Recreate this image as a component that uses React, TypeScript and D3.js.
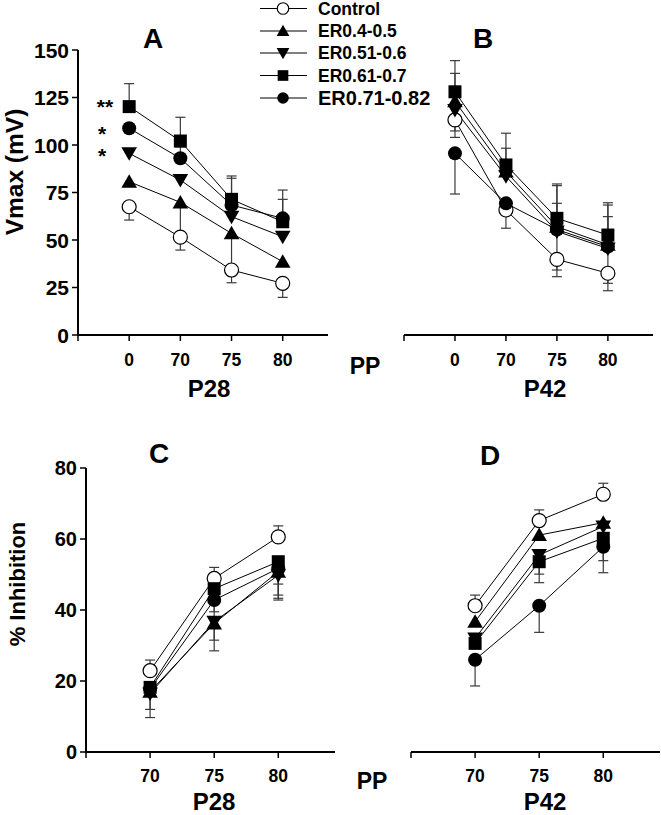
import React from "react";
import * as d3 from "d3";

// ---------- data ----------
const seriesNames = ["Control", "ER0.4-0.5", "ER0.51-0.6", "ER0.61-0.7", "ER0.71-0.82"];
const seriesShapes = ["openCircle", "triUp", "triDown", "square", "circle"];

const ppTop = ["0", "70", "75", "80"];
const ppBottom = ["70", "75", "80"];

const vmaxTicks = [0, 25, 50, 75, 100, 125, 150];
const inhibTicks = [0, 20, 40, 60, 80];

// Panel A: Vmax, P28
const vmaxP28 = [
  [67.5, 51.5, 34.2, 27.2],
  [80.7, 69.8, 53.5, 38.6],
  [95.6, 81.6, 62.3, 51.7],
  [120.2, 102.1, 71.4, 59.6],
  [108.8, 93.0, 68.4, 61.4],
];
const vmaxP28Up = [
  [0, 0, 0, 0],
  [0, 0, 0, 0],
  [0, 0, 0, 0],
  [12.1, 12.5, 12.3, 11.8],
  [0, 6, 14.1, 14.9],
];
const vmaxP28Down = [
  [7, 6.8, 6.7, 7.4],
  [0, 16, 17, 0],
  [0, 0, 0, 0],
  [0, 0, 0, 0],
  [0, 0, 0, 0],
];

// Panel B: Vmax, P42
const vmaxP42 = [
  [113.2, 65.8, 39.8, 32.5],
  [123.0, 86.0, 57.0, 47.5],
  [118.4, 83.5, 54.5, 45.5],
  [128.0, 89.5, 61.4, 52.6],
  [95.6, 69.3, 55.5, 46.5],
];
const vmaxP42Up = [
  [0, 0, 0, 0],
  [14.7, 12.3, 12.3, 14.8],
  [0, 0, 24.1, 22.9],
  [16.4, 16.7, 18.1, 17.0],
  [0, 0, 0, 0],
];
const vmaxP42Down = [
  [9.2, 9.6, 9.1, 9.2],
  [0, 0, 0, 0],
  [11, 0, 0, 0],
  [0, 0, 0, 0],
  [21.4, 0, 21.3, 19.3],
];

// Panel C: % inhibition, P28
const inhibP28 = [
  [22.9, 48.9, 60.6],
  [17.0, 36.2, 50.8],
  [16.5, 36.7, 49.8],
  [18.2, 46.0, 53.6],
  [17.8, 42.8, 51.7],
];
const inhibP28Up = [
  [3, 3.1, 3.1],
  [0, 0, 0],
  [0, 0, 0],
  [0, 0, 0],
  [0, 0, 0],
];
const inhibP28Down = [
  [0, 0, 0],
  [0, 7.7, 8.0],
  [6.8, 0, 2.5],
  [6.2, 6.5, 9.4],
  [0, 11.3, 8.4],
];

// Panel D: % inhibition, P42
const inhibP42 = [
  [41.2, 65.2, 72.6],
  [36.7, 61.1, 64.6],
  [32.0, 55.5, 63.5],
  [30.6, 53.6, 60.2],
  [26.0, 41.2, 57.8],
];
const inhibP42Up = [
  [3, 3, 3.1],
  [0, 0, 0],
  [0, 0, 0],
  [0, 0, 0],
  [0, 0, 0],
];
const inhibP42Down = [
  [0, 0, 0],
  [0, 0, 0],
  [0, 5.4, 0],
  [0, 5.9, 6.3],
  [7.4, 7.5, 7.3],
];

// ---------- drawing helpers ----------
const FONT = "'Liberation Sans', Arial, Helvetica, sans-serif";

function Marker({ shape, x, y, s = 1 }: { shape: string; x: number; y: number; s?: number }) {
  const t = `translate(${x},${y}) scale(${s})`;
  if (shape === "openCircle")
    return <circle cx={0} cy={0} r={7} transform={t} fill="#fff" stroke="#000" strokeWidth={1.2 / s} />;
  if (shape === "circle") return <circle cx={0} cy={0} r={7} transform={t} fill="#000" />;
  if (shape === "square") return <rect x={-6.5} y={-6.5} width={13} height={13} transform={t} fill="#000" />;
  if (shape === "triUp") return <path d="M0,-7.5L7.8,6L-7.8,6Z" transform={t} fill="#000" />;
  return <path d="M0,7.5L7.8,-6L-7.8,-6Z" transform={t} fill="#000" />;
}

type PanelProps = {
  cats: string[];
  values: number[][];
  up: number[][];
  down: number[][];
  x0: number;
  x1: number;
  yDomain: [number, number];
  yRange: [number, number];
  xLabelFont: number;
  tickY: number;
};

function Panel({ cats, values, up, down, x0, x1, yDomain, yRange, xLabelFont, tickY }: PanelProps) {
  const n = cats.length;
  const x = d3.scaleLinear().domain([-1, n - 1 + 0.885]).range([x0, x1]);
  const y = d3.scaleLinear().domain(yDomain).range(yRange);
  const yAxis = y(yDomain[0]);
  const line = d3
    .line<number>()
    .x((_, i) => x(i))
    .y((d) => y(d));
  const cap = 5;
  return (
    <g>
      {/* x axis */}
      <line x1={x0} x2={x1} y1={yAxis} y2={yAxis} stroke="#000" strokeWidth={2} />
      <line x1={x0} x2={x0} y1={yAxis} y2={yAxis + 6} stroke="#000" strokeWidth={1.5} />
      {cats.map((c, i) => (
        <g key={c}>
          <line x1={x(i)} x2={x(i)} y1={yAxis} y2={yAxis + 6} stroke="#000" strokeWidth={1.5} />
          <text
            x={x(i)}
            y={tickY}
            textAnchor="middle"
            fontFamily={FONT}
            fontWeight="bold"
            fontSize={xLabelFont}
          >
            {c}
          </text>
        </g>
      ))}
      {/* error bars */}
      {values.map((vals, s) =>
        vals.map((v, i) => {
          const segs = [];
          if (up[s][i] > 0) segs.push([v, v + up[s][i]]);
          if (down[s][i] > 0) segs.push([v, v - down[s][i]]);
          return segs.map(([a, b], k) => (
            <g key={`e${s}-${i}-${k}`} stroke="#3a3a3a" strokeWidth={1.2}>
              <line x1={x(i)} x2={x(i)} y1={y(a)} y2={y(b)} />
              <line x1={x(i) - cap} x2={x(i) + cap} y1={y(b)} y2={y(b)} />
            </g>
          ));
        })
      )}
      {/* lines */}
      {values.map((vals, s) => (
        <path key={`l${s}`} d={line(vals) || ""} fill="none" stroke="#000" strokeWidth={1} />
      ))}
      {/* markers */}
      {values.map((vals, s) =>
        vals.map((v, i) => <Marker key={`m${s}-${i}`} shape={seriesShapes[s]} x={x(i)} y={y(v)} />)
      )}
    </g>
  );
}

function YAxis({
  x0,
  ticks,
  yDomain,
  yRange,
  fontSize,
}: {
  x0: number;
  ticks: number[];
  yDomain: [number, number];
  yRange: [number, number];
  fontSize: number;
}) {
  const y = d3.scaleLinear().domain(yDomain).range(yRange);
  return (
    <g>
      <line x1={x0} x2={x0} y1={y(yDomain[0]) + 1} y2={y(yDomain[1])} stroke="#000" strokeWidth={2} />
      {ticks.map((t) => (
        <g key={t}>
          <line x1={x0 - 6} x2={x0} y1={y(t)} y2={y(t)} stroke="#000" strokeWidth={1.5} />
          <text
            x={x0 - 9}
            y={y(t)}
            dy="0.36em"
            textAnchor="end"
            fontFamily={FONT}
            fontWeight="bold"
            fontSize={fontSize}
          >
            {t}
          </text>
        </g>
      ))}
    </g>
  );
}

export default function App() {
  const W = 661;
  const H = 815;
  const topY: [number, number] = [335, 50];
  const botY: [number, number] = [752, 468];
  const legendYs = [8.5, 31, 53, 75.5, 98];
  return (
    <svg
      width={W}
      height={H}
      style={{ position: "absolute", left: 0, top: 0, background: "#fff" }}
      fontFamily={FONT}
    >
      <rect x={0} y={0} width={W} height={H} fill="#fff" />

      {/* Panel A */}
      <YAxis x0={78} ticks={vmaxTicks} yDomain={[0, 150]} yRange={topY} fontSize={21} />
      <Panel
        cats={ppTop}
        values={vmaxP28}
        up={vmaxP28Up}
        down={vmaxP28Down}
        x0={78}
        x1={328}
        yDomain={[0, 150]}
        yRange={topY}
        xLabelFont={17.5}
        tickY={366}
      />
      {/* Panel B */}
      <Panel
        cats={ppTop}
        values={vmaxP42}
        up={vmaxP42Up}
        down={vmaxP42Down}
        x0={404}
        x1={653}
        yDomain={[0, 150]}
        yRange={topY}
        xLabelFont={17.5}
        tickY={366}
      />
      {/* Panel C */}
      <YAxis x0={86} ticks={inhibTicks} yDomain={[0, 80]} yRange={botY} fontSize={20} />
      <Panel
        cats={ppBottom}
        values={inhibP28}
        up={inhibP28Up}
        down={inhibP28Down}
        x0={86}
        x1={335}
        yDomain={[0, 80]}
        yRange={botY}
        xLabelFont={17.5}
        tickY={782}
      />
      {/* Panel D */}
      <Panel
        cats={ppBottom}
        values={inhibP42}
        up={inhibP42Up}
        down={inhibP42Down}
        x0={411}
        x1={660}
        yDomain={[0, 80]}
        yRange={botY}
        xLabelFont={17.5}
        tickY={782}
      />

      {/* titles */}
      <g fontWeight="bold" fontSize={28} textAnchor="middle">
        <text x={153} y={48}>A</text>
        <text x={483} y={48}>B</text>
        <text x={159} y={463}>C</text>
        <text x={490} y={465}>D</text>
      </g>

      {/* axis labels */}
      <g fontWeight="bold" textAnchor="middle">
        <text x={209} y={397} fontSize={24}>P28</text>
        <text x={545} y={397} fontSize={24}>P42</text>
        <text x={365} y={374} fontSize={23}>PP</text>
        <text x={214} y={810} fontSize={24}>P28</text>
        <text x={545} y={810} fontSize={24}>P42</text>
        <text x={372} y={789} fontSize={23}>PP</text>
        <text transform="translate(23,172) rotate(-90)" fontSize={24.5}>Vmax (mV)</text>
        <text transform="translate(25,584) rotate(-90)" fontSize={22}>% Inhibition</text>
      </g>

      {/* significance marks */}
      <g fontWeight="bold" fontSize={21} textAnchor="middle">
        <text x={105} y={114}>**</text>
        <text x={102} y={141}>*</text>
        <text x={102} y={163}>*</text>
      </g>

      {/* legend */}
      {seriesNames.map((name, i) => (
        <g key={name}>
          <line x1={260} x2={307} y1={legendYs[i]} y2={legendYs[i]} stroke="#000" strokeWidth={1} />
          <Marker shape={seriesShapes[i]} x={283} y={legendYs[i]} s={0.82} />
          <text
            x={318}
            y={legendYs[i]}
            dy="0.36em"
            fontWeight="bold"
            fontSize={i === 4 ? 20 : 17.5}
          >
            {name}
          </text>
        </g>
      ))}
    </svg>
  );
}
